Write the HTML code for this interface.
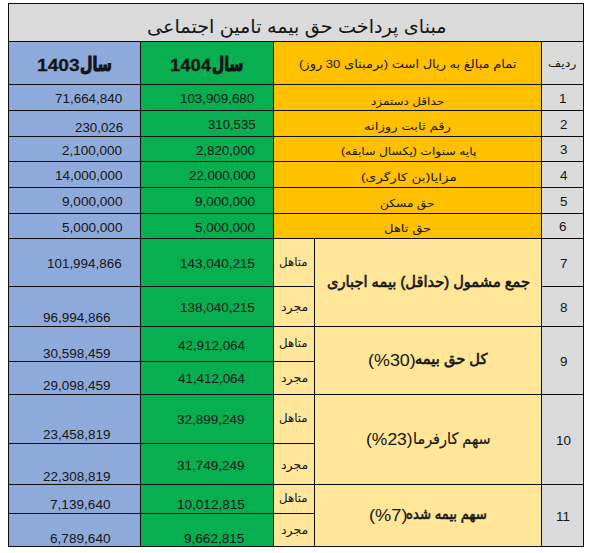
<!DOCTYPE html>
<html lang="fa"><head><meta charset="utf-8"><title>مبنای پرداخت حق بیمه تامین اجتماعی</title>
<style>
html,body{margin:0;padding:0;background:#fff}
body{width:600px;height:553px;position:relative;overflow:hidden;color:#151515}
.r,.k,.t{position:absolute}
.k{background:#0c0c0c}
.t{white-space:nowrap;transform-origin:0 0}
.a{font-family:'Liberation Sans','DejaVu Sans',sans-serif;direction:rtl;}
.ab{font-family:'Liberation Sans','DejaVu Sans',sans-serif;direction:rtl;-webkit-text-stroke:0.6px #151515;}
.as{font-family:'Liberation Sans','DejaVu Sans',sans-serif;direction:rtl;-webkit-text-stroke:0.2px #151515;}
.n{font-family:'Liberation Sans',sans-serif;direction:ltr;}
.nb{font-family:'Liberation Sans',sans-serif;direction:ltr;font-weight:bold;-webkit-text-stroke:0.3px #151515;}
.ay{font-family:'Liberation Sans','DejaVu Sans',sans-serif;direction:rtl;font-weight:bold;-webkit-text-stroke:0.9px #111;}
.l{font-family:'Liberation Sans',sans-serif;direction:ltr;}
</style></head><body>
<div class="r" style="left:8px;top:3px;width:575px;height:38px;background:#dadada"></div>
<div class="r" style="left:8px;top:41px;width:132px;height:505px;background:#8eaadb"></div>
<div class="r" style="left:140px;top:41px;width:133px;height:505px;background:#08af50"></div>
<div class="r" style="left:273px;top:41px;width:268px;height:197px;background:#ffc000"></div>
<div class="r" style="left:273px;top:238px;width:268px;height:308px;background:#ffe699"></div>
<div class="r" style="left:541px;top:41px;width:42px;height:505px;background:#dadada"></div>
<div class="k" style="left:8px;top:3px;width:576px;height:1px"></div>
<div class="k" style="left:8px;top:41px;width:576px;height:1px"></div>
<div class="k" style="left:8px;top:84px;width:576px;height:1px"></div>
<div class="k" style="left:8px;top:110px;width:576px;height:1px"></div>
<div class="k" style="left:8px;top:136px;width:576px;height:1px"></div>
<div class="k" style="left:8px;top:161px;width:576px;height:1px"></div>
<div class="k" style="left:8px;top:187px;width:576px;height:1px"></div>
<div class="k" style="left:8px;top:213px;width:576px;height:1px"></div>
<div class="k" style="left:8px;top:238px;width:576px;height:1px"></div>
<div class="k" style="left:8px;top:286px;width:307px;height:1px"></div>
<div class="k" style="left:8px;top:326px;width:576px;height:1px"></div>
<div class="k" style="left:8px;top:361px;width:307px;height:1px"></div>
<div class="k" style="left:8px;top:394px;width:576px;height:1px"></div>
<div class="k" style="left:8px;top:443px;width:307px;height:1px"></div>
<div class="k" style="left:8px;top:484px;width:576px;height:1px"></div>
<div class="k" style="left:8px;top:513px;width:307px;height:1px"></div>
<div class="k" style="left:8px;top:546px;width:576px;height:1px"></div>
<div class="k" style="left:541px;top:286px;width:43px;height:1px"></div>
<div class="k" style="left:8px;top:3px;width:1px;height:544px"></div>
<div class="k" style="left:583px;top:3px;width:1px;height:544px"></div>
<div class="k" style="left:140px;top:41px;width:1px;height:506px"></div>
<div class="k" style="left:273px;top:41px;width:1px;height:506px"></div>
<div class="k" style="left:541px;top:41px;width:1px;height:506px"></div>
<div class="k" style="left:314px;top:238px;width:1px;height:309px"></div>
<div class="t a" style="left:146.71px;top:14.16px;font-size:18.6px;line-height:26px;height:26px;transform:scale(1.0320,1.0000);">مبنای پرداخت حق بیمه تامین اجتماعی</div>
<div class="t nb" style="left:37.49px;top:53.21px;font-size:17.3px;line-height:24px;height:24px;transform:scale(1.1081,1.0000);">1403</div>
<div class="t ay" style="left:80.37px;top:52.03px;font-size:17px;line-height:24px;height:24px;transform:scale(0.8441,1.1343);">سال</div>
<div class="t nb" style="left:169.93px;top:53.21px;font-size:17.3px;line-height:24px;height:24px;transform:scale(1.0667,1.0000);">1404</div>
<div class="t ay" style="left:212.38px;top:52.03px;font-size:17px;line-height:24px;height:24px;transform:scale(0.8276,1.1343);">سال</div>
<div class="t a" style="left:299.15px;top:55.92px;font-size:11.5px;line-height:16px;height:16px;transform:scale(1.1324,1.0000);">تمام مبالغ به ریال است (برمبنای <span class="l">30</span> روز)</div>
<div class="t a" style="left:548.14px;top:56.09px;font-size:11px;line-height:15px;height:15px;transform:scale(1.1527,1.0000);">ردیف</div>
<div class="t a" style="left:371.07px;top:93.56px;font-size:10.8px;line-height:15px;height:15px;transform:scale(1.1113,1.0000);">حداقل دستمزد</div>
<div class="t a" style="left:363.78px;top:119.46px;font-size:10.8px;line-height:15px;height:15px;transform:scale(1.2273,1.0000);">رقم ثابت روزانه</div>
<div class="t a" style="left:341.14px;top:144.26px;font-size:10.8px;line-height:15px;height:15px;transform:scale(1.1413,1.0000);">پایه سنوات (یکسال سابقه)</div>
<div class="t a" style="left:360.55px;top:170.06px;font-size:10.8px;line-height:15px;height:15px;transform:scale(1.2676,1.0000);">مزایا(بن کارگری)</div>
<div class="t a" style="left:379.85px;top:196.26px;font-size:10.8px;line-height:15px;height:15px;transform:scale(1.1294,1.0000);">حق مسکن</div>
<div class="t a" style="left:383.79px;top:221.26px;font-size:10.8px;line-height:15px;height:15px;transform:scale(1.2161,1.0000);">حق تاهل</div>
<div class="t a" style="left:279.32px;top:254.05px;font-size:11.4px;line-height:16px;height:16px;transform:scale(1.0346,1.0000);">متاهل</div>
<div class="t a" style="left:280.66px;top:298.92px;font-size:11.2px;line-height:16px;height:16px;transform:scale(1.1209,1.0000);">مجرد</div>
<div class="t a" style="left:279.32px;top:335.05px;font-size:11.4px;line-height:16px;height:16px;transform:scale(1.0346,1.0000);">متاهل</div>
<div class="t a" style="left:280.66px;top:370.22px;font-size:11.2px;line-height:16px;height:16px;transform:scale(1.1209,1.0000);">مجرد</div>
<div class="t a" style="left:279.32px;top:409.75px;font-size:11.4px;line-height:16px;height:16px;transform:scale(1.0346,1.0000);">متاهل</div>
<div class="t a" style="left:280.66px;top:456.52px;font-size:11.2px;line-height:16px;height:16px;transform:scale(1.1209,1.0000);">مجرد</div>
<div class="t a" style="left:279.32px;top:490.05px;font-size:11.4px;line-height:16px;height:16px;transform:scale(1.0346,1.0000);">متاهل</div>
<div class="t a" style="left:280.66px;top:522.02px;font-size:11.2px;line-height:16px;height:16px;transform:scale(1.1209,1.0000);">مجرد</div>
<div class="t ab" style="left:326.58px;top:270.93px;font-size:15.2px;line-height:21px;height:21px;transform:scale(0.9639,1.0000);">جمع مشمول (حداقل) بیمه اجباری</div>
<div class="t ab" style="left:414.56px;top:348.84px;font-size:14.9px;line-height:21px;height:21px;transform:scale(0.9863,1.0000);">کل حق بیمه</div>
<div class="t n" style="left:367.65px;top:348.91px;font-size:17px;line-height:24px;height:24px;transform:scale(1.0543,1.0000);">(%30)</div>
<div class="t as" style="left:413.05px;top:427.76px;font-size:15.7px;line-height:22px;height:22px;transform:scale(0.9207,1.0000);">سهم کارفرما</div>
<div class="t n" style="left:366.47px;top:427.91px;font-size:17px;line-height:24px;height:24px;transform:scale(1.0289,1.0000);">(%23)</div>
<div class="t ab" style="left:406.33px;top:503.84px;font-size:14.9px;line-height:21px;height:21px;transform:scale(0.8885,1.0000);">سهم بیمه شده</div>
<div class="t n" style="left:368.73px;top:503.91px;font-size:17px;line-height:24px;height:24px;transform:scale(1.0726,1.0000);">(%7)</div>
<div class="t n" style="left:559.40px;top:89.67px;font-size:12.5px;line-height:18px;height:18px;transform:scale(1.0750,1.0000);">1</div>
<div class="t n" style="left:559.67px;top:115.97px;font-size:12.5px;line-height:18px;height:18px;transform:scale(1.0750,1.0000);">2</div>
<div class="t n" style="left:559.54px;top:141.47px;font-size:12.5px;line-height:18px;height:18px;transform:scale(1.0750,1.0000);">3</div>
<div class="t n" style="left:559.67px;top:166.97px;font-size:12.5px;line-height:18px;height:18px;transform:scale(1.0750,1.0000);">4</div>
<div class="t n" style="left:559.54px;top:192.67px;font-size:12.5px;line-height:18px;height:18px;transform:scale(1.0750,1.0000);">5</div>
<div class="t n" style="left:559.40px;top:218.17px;font-size:12.5px;line-height:18px;height:18px;transform:scale(1.0750,1.0000);">6</div>
<div class="t n" style="left:559.54px;top:254.97px;font-size:12.5px;line-height:18px;height:18px;transform:scale(1.0750,1.0000);">7</div>
<div class="t n" style="left:559.54px;top:298.97px;font-size:12.5px;line-height:18px;height:18px;transform:scale(1.0750,1.0000);">8</div>
<div class="t n" style="left:559.67px;top:353.07px;font-size:12.5px;line-height:18px;height:18px;transform:scale(1.0750,1.0000);">9</div>
<div class="t n" style="left:555.51px;top:431.67px;font-size:12.5px;line-height:18px;height:18px;transform:scale(1.0750,1.0000);">10</div>
<div class="t n" style="left:556.18px;top:508.07px;font-size:12.5px;line-height:18px;height:18px;transform:scale(1.0750,1.0000);">11</div>
<div class="t n" style="left:55.39px;top:89.67px;font-size:12.5px;line-height:18px;height:18px;transform:scale(1.0743,1.0000);">71,664,840</div>
<div class="t n" style="left:74.77px;top:118.87px;font-size:12.5px;line-height:18px;height:18px;transform:scale(1.0667,1.0000);">230,026</div>
<div class="t n" style="left:62.26px;top:141.87px;font-size:12.5px;line-height:18px;height:18px;transform:scale(1.0813,1.0000);">2,100,000</div>
<div class="t n" style="left:55.12px;top:167.07px;font-size:12.5px;line-height:18px;height:18px;transform:scale(1.0787,1.0000);">14,000,000</div>
<div class="t n" style="left:61.96px;top:192.67px;font-size:12.5px;line-height:18px;height:18px;transform:scale(1.0868,1.0000);">9,000,000</div>
<div class="t n" style="left:61.96px;top:219.07px;font-size:12.5px;line-height:18px;height:18px;transform:scale(1.0868,1.0000);">5,000,000</div>
<div class="t n" style="left:46.73px;top:255.07px;font-size:12.5px;line-height:18px;height:18px;transform:scale(1.0735,1.0000);">101,994,866</div>
<div class="t n" style="left:43.26px;top:309.37px;font-size:12.5px;line-height:18px;height:18px;transform:scale(1.0780,1.0000);">96,994,866</div>
<div class="t n" style="left:43.26px;top:345.47px;font-size:12.5px;line-height:18px;height:18px;transform:scale(1.0780,1.0000);">30,598,459</div>
<div class="t n" style="left:43.26px;top:377.17px;font-size:12.5px;line-height:18px;height:18px;transform:scale(1.0780,1.0000);">29,098,459</div>
<div class="t n" style="left:43.26px;top:426.37px;font-size:12.5px;line-height:18px;height:18px;transform:scale(1.0780,1.0000);">23,458,819</div>
<div class="t n" style="left:43.26px;top:468.17px;font-size:12.5px;line-height:18px;height:18px;transform:scale(1.0780,1.0000);">22,308,819</div>
<div class="t n" style="left:49.68px;top:496.37px;font-size:12.5px;line-height:18px;height:18px;transform:scale(1.0881,1.0000);">7,139,640</div>
<div class="t n" style="left:49.68px;top:529.97px;font-size:12.5px;line-height:18px;height:18px;transform:scale(1.0881,1.0000);">6,789,640</div>
<div class="t n" style="left:179.73px;top:89.67px;font-size:12.5px;line-height:18px;height:18px;transform:scale(1.0662,1.0000);">103,909,680</div>
<div class="t n" style="left:208.17px;top:116.37px;font-size:12.5px;line-height:18px;height:18px;transform:scale(1.0531,1.0000);">310,535</div>
<div class="t n" style="left:196.17px;top:142.17px;font-size:12.5px;line-height:18px;height:18px;transform:scale(1.0594,1.0000);">2,820,000</div>
<div class="t n" style="left:189.17px;top:167.07px;font-size:12.5px;line-height:18px;height:18px;transform:scale(1.0618,1.0000);">22,000,000</div>
<div class="t n" style="left:195.26px;top:192.87px;font-size:12.5px;line-height:18px;height:18px;transform:scale(1.0813,1.0000);">9,000,000</div>
<div class="t n" style="left:195.26px;top:219.07px;font-size:12.5px;line-height:18px;height:18px;transform:scale(1.0813,1.0000);">5,000,000</div>
<div class="t n" style="left:179.62px;top:255.07px;font-size:12.5px;line-height:18px;height:18px;transform:scale(1.0765,1.0000);">143,040,215</div>
<div class="t n" style="left:179.62px;top:299.17px;font-size:12.5px;line-height:18px;height:18px;transform:scale(1.0765,1.0000);">138,040,215</div>
<div class="t n" style="left:177.73px;top:337.27px;font-size:12.5px;line-height:18px;height:18px;transform:scale(1.0710,1.0000);">42,912,064</div>
<div class="t n" style="left:177.73px;top:370.27px;font-size:12.5px;line-height:18px;height:18px;transform:scale(1.0710,1.0000);">41,412,064</div>
<div class="t n" style="left:177.46px;top:411.07px;font-size:12.5px;line-height:18px;height:18px;transform:scale(1.0797,1.0000);">32,899,249</div>
<div class="t n" style="left:177.46px;top:457.17px;font-size:12.5px;line-height:18px;height:18px;transform:scale(1.0797,1.0000);">31,749,249</div>
<div class="t n" style="left:177.22px;top:496.37px;font-size:12.5px;line-height:18px;height:18px;transform:scale(1.0836,1.0000);">10,012,815</div>
<div class="t n" style="left:183.86px;top:529.97px;font-size:12.5px;line-height:18px;height:18px;transform:scale(1.0844,1.0000);">9,662,815</div>
</body></html>
